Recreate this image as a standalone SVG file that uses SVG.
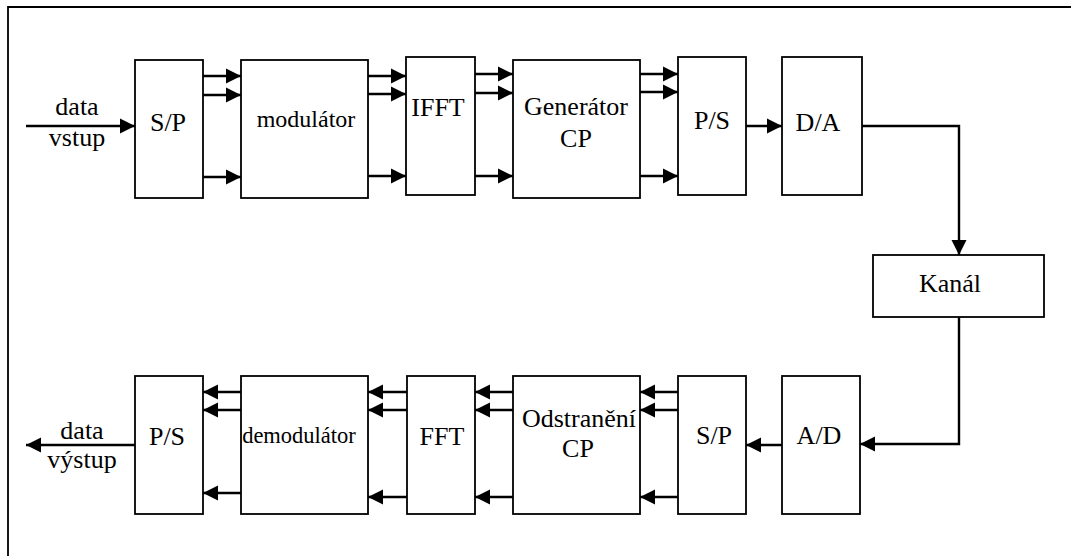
<svg xmlns="http://www.w3.org/2000/svg" width="1071" height="556" viewBox="0 0 1071 556">
<style>
.box{fill:#fff;stroke:#000;stroke-width:1.8}
.ln{fill:none;stroke:#000;stroke-width:2.4;marker-end:url(#ah)}
text{font-family:'Liberation Serif','Times New Roman',serif;font-size:26px;fill:#000;text-anchor:middle}
.m{font-size:24px}
.dm{font-size:22.5px}
</style>
<defs>
<marker id="ah" markerUnits="userSpaceOnUse" markerWidth="16" markerHeight="16" refX="15" refY="8" orient="auto"><path d="M0,0.5 L15,8 L0,15.5 z" fill="#000"/></marker>
</defs>
<rect width="1071" height="556" fill="#fff"/>
<path d="M8,556 V7 H1071" fill="none" stroke="#000" stroke-width="1.8"/>
<g id="connectors">
<line class="ln" x1="26" y1="126" x2="135" y2="126"/>
<line class="ln" x1="203" y1="76" x2="241" y2="76"/>
<line class="ln" x1="203" y1="95" x2="241" y2="95"/>
<line class="ln" x1="203" y1="177" x2="241" y2="177"/>
<line class="ln" x1="368" y1="76" x2="406" y2="76"/>
<line class="ln" x1="368" y1="94" x2="406" y2="94"/>
<line class="ln" x1="368" y1="176" x2="406" y2="176"/>
<line class="ln" x1="475" y1="74" x2="513" y2="74"/>
<line class="ln" x1="475" y1="93" x2="513" y2="93"/>
<line class="ln" x1="475" y1="176" x2="513" y2="176"/>
<line class="ln" x1="640" y1="74" x2="678" y2="74"/>
<line class="ln" x1="640" y1="92" x2="678" y2="92"/>
<line class="ln" x1="640" y1="176" x2="678" y2="176"/>
<line class="ln" x1="746" y1="126" x2="782" y2="126"/>
<path class="ln" d="M862,126 H959 V255"/>
<path class="ln" d="M959,317 V444 H860"/>
<line class="ln" x1="782" y1="445" x2="746" y2="445"/>
<line class="ln" x1="678" y1="392" x2="640" y2="392"/>
<line class="ln" x1="678" y1="410" x2="640" y2="410"/>
<line class="ln" x1="678" y1="497" x2="640" y2="497"/>
<line class="ln" x1="513" y1="392" x2="475" y2="392"/>
<line class="ln" x1="513" y1="410" x2="475" y2="410"/>
<line class="ln" x1="513" y1="497" x2="475" y2="497"/>
<line class="ln" x1="407" y1="392" x2="368" y2="392"/>
<line class="ln" x1="407" y1="410" x2="368" y2="410"/>
<line class="ln" x1="407" y1="497" x2="368" y2="497"/>
<line class="ln" x1="241" y1="392" x2="203" y2="392"/>
<line class="ln" x1="241" y1="410" x2="203" y2="410"/>
<line class="ln" x1="241" y1="493" x2="203" y2="493"/>
<line class="ln" x1="135" y1="445" x2="26" y2="445"/>
</g>
<g id="in-label"><text x="77" y="115">data</text><text x="77" y="146">vstup</text></g>
<g id="sp1"><rect class="box" x="135" y="60" width="68" height="138"/><text x="168" y="131">S/P</text></g>
<g id="mod"><rect class="box" x="241" y="60" width="127" height="138"/><text class="m" x="306" y="127">modulátor</text></g>
<g id="ifft"><rect class="box" x="406" y="57" width="69" height="138"/><text x="438" y="116">IFFT</text></g>
<g id="gencp"><rect class="box" x="513" y="60" width="127" height="138"/><text x="576" y="115">Generátor</text><text x="576" y="147">CP</text></g>
<g id="ps1"><rect class="box" x="678" y="57" width="68" height="138"/><text x="712" y="129">P/S</text></g>
<g id="da"><rect class="box" x="782" y="57" width="80" height="138"/><text x="818" y="131">D/A</text></g>
<g id="kanal"><rect class="box" x="873" y="255" width="171" height="62"/><text x="950" y="292">Kanál</text></g>
<g id="ad"><rect class="box" x="782" y="376" width="78" height="138"/><text x="819" y="444">A/D</text></g>
<g id="sp2"><rect class="box" x="678" y="376" width="68" height="138"/><text x="714" y="444">S/P</text></g>
<g id="odcp"><rect class="box" x="513" y="376" width="127" height="138"/><text x="579" y="427">Odstranění</text><text x="578" y="457">CP</text></g>
<g id="fft"><rect class="box" x="407" y="376" width="68" height="138"/><text x="442" y="445">FFT</text></g>
<g id="demod"><rect class="box" x="241" y="376" width="127" height="138"/><text class="dm" x="299" y="443">demodulátor</text></g>
<g id="ps2"><rect class="box" x="135" y="376" width="68" height="138"/><text x="167" y="445">P/S</text></g>
<g id="out-label"><text x="82" y="439">data</text><text x="82" y="468">výstup</text></g>
</svg>
